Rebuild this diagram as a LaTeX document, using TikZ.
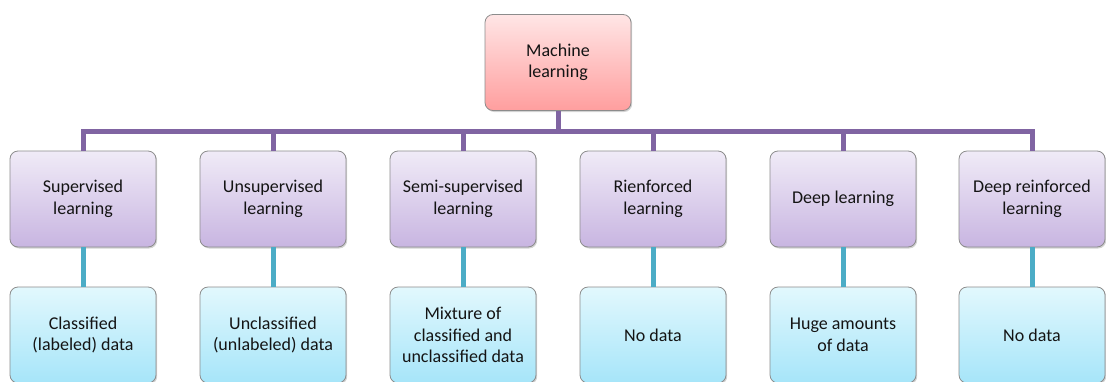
\documentclass[tikz,border=0pt]{standalone}
\usepackage{fontspec}
\setmainfont{Carlito}
\usetikzlibrary{shadows}
\definecolor{treeline}{HTML}{8064A2}
\definecolor{dataline}{HTML}{4BACC6}
\definecolor{boxedge}{HTML}{8C8C8C}
\definecolor{ink}{HTML}{141414}
\tikzset{
  basebox/.style={draw=boxedge, line width=0.8pt, rounded corners=8pt,
    minimum width=146pt, minimum height=96pt, align=center, text=ink,
    font=\fontsize{18}{21.5}\selectfont, inner sep=2pt,
    drop shadow={opacity=0.35, shadow xshift=1.2pt, shadow yshift=-1.5pt}},
  rootbox/.style={basebox, top color=red!10!white, bottom color={rgb,255:red,255;green,158;blue,158}},
  methodbox/.style={basebox, top color={rgb,255:red,240;green,235;blue,247}, bottom color={rgb,255:red,200;green,181;blue,225}},
  databox/.style={basebox, top color={rgb,255:red,226;green,248;blue,253}, bottom color={rgb,255:red,166;green,229;blue,249}},
  treelink/.style={draw=treeline, line width=5pt},
  datalink/.style={draw=dataline, line width=5pt},
}
\begin{document}
\begin{tikzpicture}[x=1pt, y=-1pt]
  \useasboundingbox (0,0) rectangle (1106,381);
  \clip (0,0) rectangle (1106,381);

  % horizontal bus and its ends
  \coordinate (busL) at (83,131);
  \coordinate (busR) at (1032,131);

  % root
  \node[rootbox] (root) at (558,62.5) {Machine\\learning};

  % learning methods
  \node[methodbox] (m1) at (83,199)   {Supervised\\learning};
  \node[methodbox] (m2) at (273,199)  {Unsupervised\\learning};
  \node[methodbox] (m3) at (463,199)  {Semi-supervised\\learning};
  \node[methodbox] (m4) at (653,199)  {Rienforced\\learning};
  \node[methodbox] (m5) at (843,199)  {Deep learning};
  \node[methodbox] (m6) at (1032,199) {Deep reinforced\\learning};

  % kinds of data
  \node[databox] (d1) at (83,335)   {Classified\\(labeled) data};
  \node[databox] (d2) at (273,335)  {Unclassified\\(unlabeled) data};
  \node[databox] (d3) at (463,335)  {Mixture of\\classified and\\unclassified data};
  \node[databox] (d4) at (653,335)  {No data};
  \node[databox] (d5) at (843,335)  {Huge amounts\\of data};
  \node[databox] (d6) at (1032,335) {No data};

  % tree connectors
  \draw[treelink, line cap=rect] (busL) -- (busR);
  \draw[treelink] (root.south) -- (root.south |- busL);
  \foreach \m in {m1,m2,m3,m4,m5,m6} {
    \draw[treelink] (\m.north) -- (\m.north |- busL);
  }
  \foreach \m/\d in {m1/d1,m2/d2,m3/d3,m4/d4,m5/d5,m6/d6} {
    \draw[datalink] (\m.south) -- (\d.north);
  }
\end{tikzpicture}
\end{document}
